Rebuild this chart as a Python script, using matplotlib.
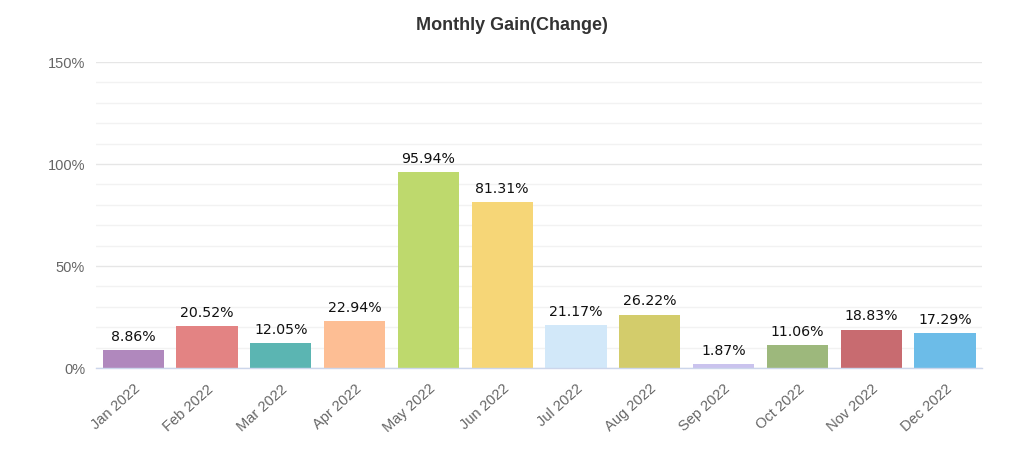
import matplotlib
matplotlib.use("Agg")
import matplotlib.pyplot as plt
from matplotlib.ticker import MultipleLocator, FuncFormatter

months = ["Jan 2022", "Feb 2022", "Mar 2022", "Apr 2022", "May 2022", "Jun 2022",
          "Jul 2022", "Aug 2022", "Sep 2022", "Oct 2022", "Nov 2022", "Dec 2022"]
gains = [8.86, 20.52, 12.05, 22.94, 95.94, 81.31, 21.17, 26.22, 1.87, 11.06, 18.83, 17.29]
colors = ["#b088bd", "#e38383", "#5bb5b2", "#fdbe94", "#bed96d", "#f6d677",
          "#d2e8f9", "#d3cc6b", "#cac3ee", "#9db87c", "#c86b70", "#6cbce8"]

fig = plt.figure(figsize=(10.24, 4.58), dpi=100)
ax = fig.add_axes([0.094, 0.1965, 0.865, 0.668])

x = range(len(months))
bars = ax.bar(x, gains, width=0.83, color=colors, zorder=3)
for xi, v in zip(x, gains):
    ax.text(xi, v + 3, f"{v:.2f}%", ha="center", va="bottom", fontsize=10.2,
            color="#111111", family="DejaVu Sans", zorder=4)

ax.set_xlim(-0.5, len(months) - 0.5)
ax.set_ylim(0, 150)
ax.yaxis.set_major_locator(MultipleLocator(50))
ax.yaxis.set_minor_locator(MultipleLocator(10))
ax.yaxis.set_major_formatter(FuncFormatter(lambda v, p: f"{int(v)}%"))
ax.grid(axis="y", which="major", color="#e6e6e6", linewidth=1, zorder=0)
ax.grid(axis="y", which="minor", color="#f2f2f2", linewidth=1, zorder=0)

for s in ["top", "right", "left"]:
    ax.spines[s].set_visible(False)
ax.spines["bottom"].set_color("#ccd6eb")
ax.spines["bottom"].set_linewidth(1)
ax.spines["bottom"].set_zorder(5)

ax.set_xticks(list(x))
ax.set_xticklabels(months, rotation=42, ha="right", rotation_mode="anchor",
                   fontsize=10.5, color="#666666", family="Liberation Sans")
ax.tick_params(axis="x", length=0, pad=10)
ax.tick_params(axis="y", which="both", length=0, pad=8, labelsize=10.5,
               labelcolor="#666666")
for lab in ax.get_yticklabels():
    lab.set_family("Liberation Sans")

fig.text(0.5, 0.945, "Monthly Gain(Change)", ha="center", va="center",
         fontsize=13, fontweight="bold", color="#333333", family="Liberation Sans")

fig.savefig("out.png", dpi=100)
